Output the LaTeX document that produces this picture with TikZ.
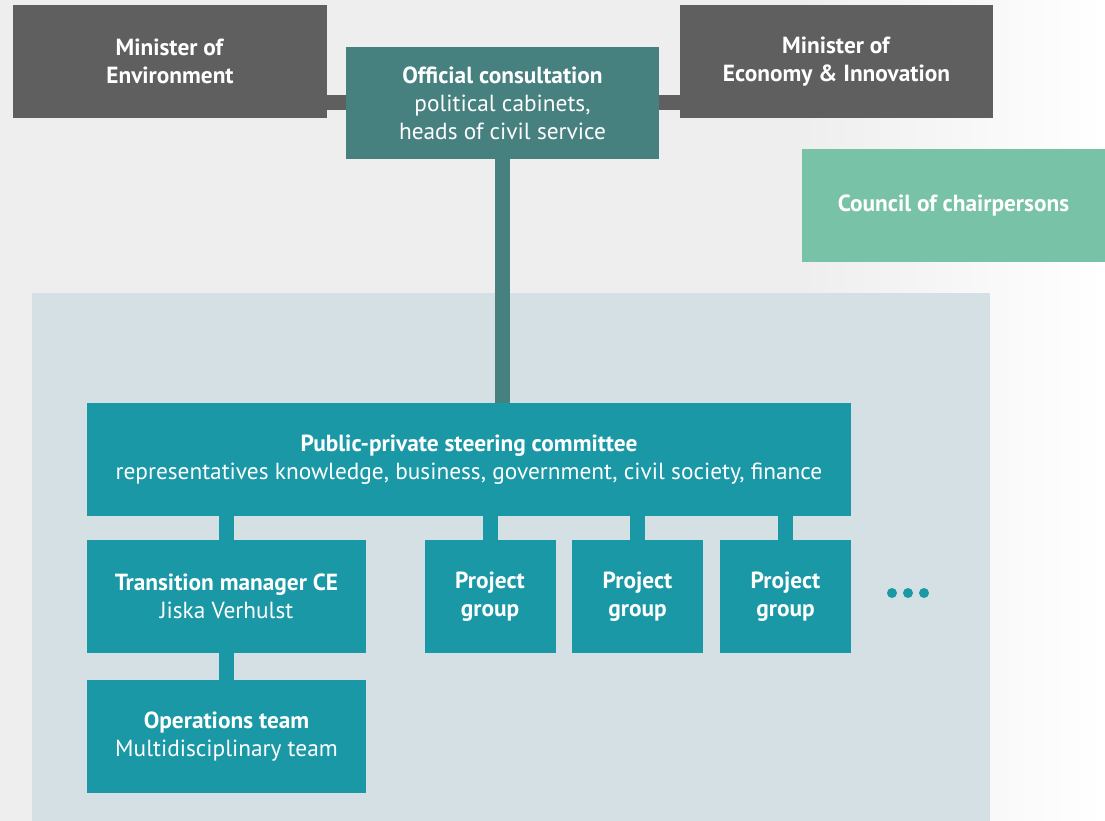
\documentclass[tikz,border=0pt]{standalone}
\usepackage{fontspec}
\setmainfont{PT Sans}
\usetikzlibrary{positioning}
\definecolor{orggrey}{RGB}{95,95,95}
\definecolor{orgdark}{RGB}{70,128,127}
\definecolor{orgteal}{RGB}{26,152,166}
\definecolor{orgmint}{RGB}{120,195,168}
\definecolor{orgpanel}{RGB}{213,224,229}
\definecolor{orgbg}{RGB}{238,238,238}
\newcommand{\orgtitle}[2]{\textbf{#1}\\#2}

\begin{document}
\begin{tikzpicture}[x=0.6pt,y=-0.6pt,
    orgbox/.style={inner sep=0pt,align=center,text=white,
      font=\fontsize{14}{16.8}\selectfont},
    orglink/.style={line width=9pt}]
  \def\px{0.6pt} % one unit of the grid
  \useasboundingbox (0,0) rectangle (1105,821);
  % --- backdrop and panel ---
  \fill[orgbg] (0,0) rectangle (1105,821);
  \shade[left color=orgbg,right color=white] (800,0) rectangle (1105,821);
  \fill[orgpanel] (32,293) rectangle (990,821);
  % --- top level ---
  \node[orgbox,fill=orggrey,minimum width=314*\px,minimum height=113*\px] (envmin) at (170,61.5)
    {\textbf{Minister of}\\\textbf{Environment}};
  \node[orgbox,fill=orggrey,minimum width=313*\px,minimum height=113*\px] (ecomin) at (836.5,61.5)
    {\textbf{Minister of}\\\textbf{Economy \& Innovation}};
  \node[orgbox,fill=orgdark,minimum width=313*\px,minimum height=112*\px] (offcons) at (502.5,103)
    {\orgtitle{Official consultation}{political cabinets,\\heads of civil service}};
  \node[orgbox,fill=orgmint,minimum width=303*\px,minimum height=113*\px] (council) at (953.5,205.5)
    {\textbf{Council of chairpersons}};
  % --- steering and below ---
  \node[orgbox,fill=orgteal,minimum width=764*\px,minimum height=113*\px] (steer) at (469,459.5)
    {\orgtitle{Public-private steering committee}{representatives knowledge, business, government, civil society, finance}};
  \node[orgbox,fill=orgteal,minimum width=279*\px,minimum height=113*\px] (transman) at (226.5,596.5)
    {\orgtitle{Transition manager CE}{Jiska Verhulst}};
  \node[orgbox,fill=orgteal,minimum width=279*\px,minimum height=113*\px] (opsteam) at (226.5,736.5)
    {\orgtitle{Operations team}{Multidisciplinary team}};
  \foreach \gx/\gname in {490/projA,637.5/projB,785.5/projC}{%
    \node[orgbox,fill=orgteal,minimum width=131*\px,minimum height=113*\px] (\gname) at (\gx,596.5)
      {\textbf{Project}\\\textbf{group}};}
  % more groups
  \foreach \dx in {892,908,924}
    \fill[orgteal] (\dx,593) circle (3pt);
  % --- links ---
  \draw[orglink,orggrey] (offcons.west) -- (offcons.west -| envmin.east);
  \draw[orglink,orggrey] (offcons.east) -- (offcons.east -| ecomin.west);
  \draw[orglink,orgdark] (offcons.south) -- (offcons.south |- steer.north);
  \foreach \gname in {transman,projA,projB,projC}
    \draw[orglink,orgteal] (\gname.north) -- (\gname.north |- steer.south);
  \draw[orglink,orgteal] (transman.south) -- (opsteam.north);
\end{tikzpicture}
\end{document}
